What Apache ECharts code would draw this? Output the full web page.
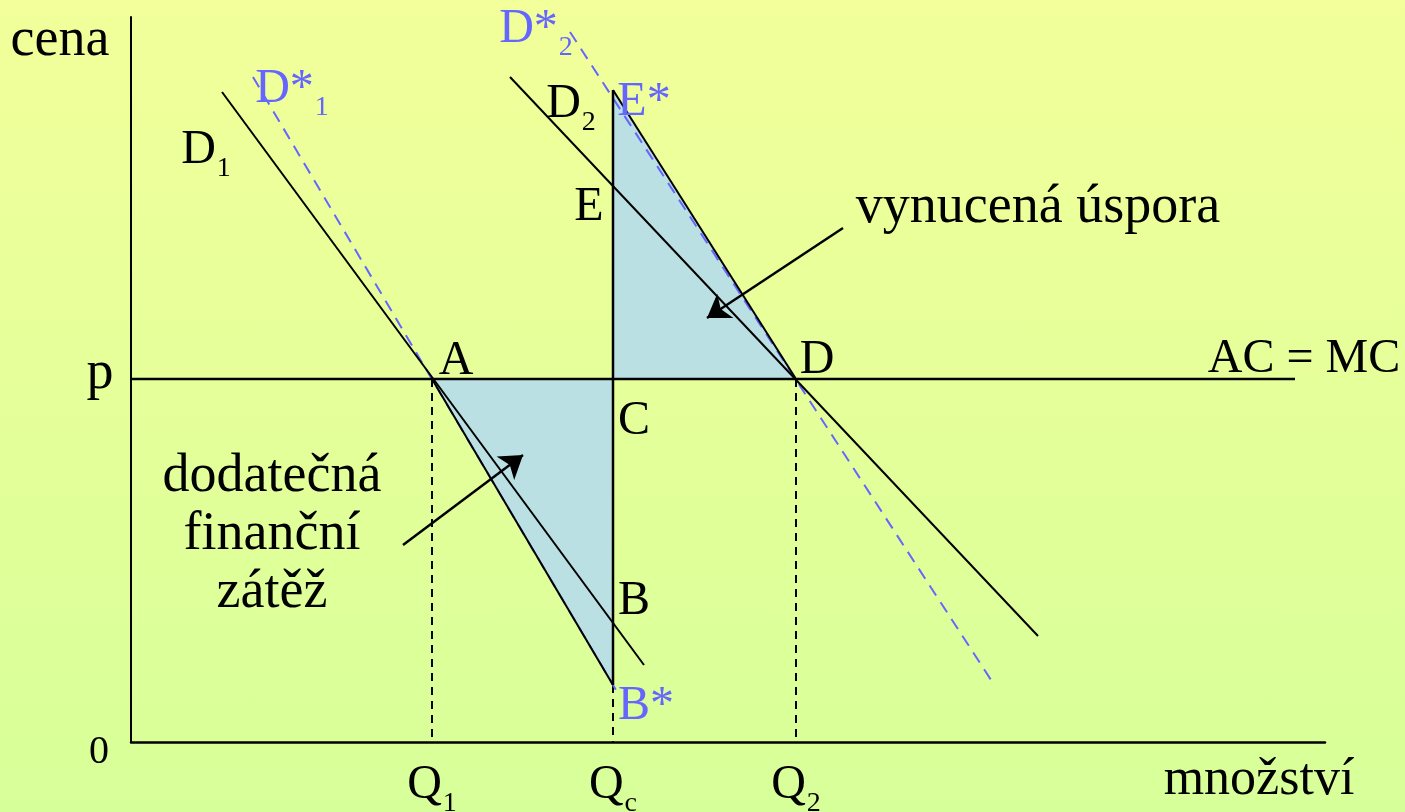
<!DOCTYPE html>
<html>
<head>
<meta charset="utf-8">
<script src="https://cdn.jsdelivr.net/npm/echarts@6/dist/echarts.min.js"></script>
<style>
  html, body { margin: 0; padding: 0; }
  #chart { width: 1405px; height: 812px; background: linear-gradient(to bottom, #f2ff9a, #d7ff99); }
</style>
</head>
<body>
<div id="chart"></div>
<script>
// quantity on x, price on y, both measured from the origin of the diagram
const X_MAX = 1194;
const Y_MAX = 725;
const P = 363; // price level p (AC = MC)
const Q1 = 301, QC = 482, Q2 = 665;

const pointA = [Q1, P];
const pointC = [QC, P];
const pointD = [Q2, P];
const pointBStar = [QC, 57];
const pointEStar = [QC, 652];

const demand1 = [[91, 650], [513, 77]];
const demand1Star = [[122, 665], [485, 52]];
const demand2 = [[379, 665], [907, 106]];
const demand2Star = [[439, 710], [862, 59]];
const costLine = [[0, P], [1164, P]];
const capLine = [pointEStar, pointBStar];
const q1Drop = [pointA, [Q1, 0]];
const qcDrop = [pointBStar, [QC, 0]];
const q2Drop = [pointD, [Q2, 0]];

const burdenTriangle = [pointA, pointC, pointBStar];
const savingTriangle = [pointEStar, pointC, pointD];

const arrows = [
  [[272, 197], [392, 287]],
  [[712, 514], [576, 424]]
];

const BLACK = "#000000";
const BLUE = "#6666ff";
const FILL = "#bae0e3";
const FONT = "Liberation Serif";

// label text, optional subscript, centre of the label, colour, size
const labels = [
  { text: "cena", at: [-71, 701], size: 54 },
  { text: "p", at: [-31, 368], size: 54 },
  { text: "0", at: [-32, -10], size: 40 },
  { text: "A", at: [325, 381] },
  { text: "C", at: [503, 321] },
  { text: "B", at: [503, 141] },
  { text: "E", at: [458, 535] },
  { text: "D", at: [686, 382] },
  { text: "B*", at: [515, 36], color: BLUE },
  { text: "E*", at: [513, 640], color: BLUE },
  { text: "D", sub: "1", at: [75, 588] },
  { text: "D", sub: "2", at: [440, 634] },
  { text: "D*", sub: "1", at: [161, 649], color: BLUE },
  { text: "D*", sub: "2", at: [405, 709], color: BLUE },
  { text: "AC = MC", at: [1173, 383] },
  { text: "vynucená úspora", at: [907, 534], size: 54 },
  { text: "dodatečná\nfinanční\nzátěž", at: [141, 207], size: 54, lineHeight: 58 },
  { text: "množství", at: [1128, -38], size: 52 },
  { text: "Q", sub: "1", at: [301, -47] },
  { text: "Q", sub: "c", at: [482, -47] },
  { text: "Q", sub: "2", at: [665, -47] }
];

function lineSeries(data, color, type, width) {
  return {
    type: "line",
    data: data,
    showSymbol: false,
    silent: true,
    clip: false,
    z: type === "solid" ? 4 : 3,
    lineStyle: { color: color, width: width || 2, type: type }
  };
}

function triangleSeries(points) {
  return {
    type: "custom",
    data: points,
    silent: true,
    z: 1,
    renderItem: function (params, api) {
      if (params.dataIndex !== 0) return;
      return {
        type: "polygon",
        shape: { points: points.map(p => api.coord(p)) },
        style: { fill: FILL }
      };
    }
  };
}

const labelData = labels.map(l => {
  const color = l.color || BLACK;
  const size = l.size || 48;
  const label = { show: true, position: "inside", align: "center", verticalAlign: "middle" };
  if (l.sub) {
    label.formatter = "{m|" + l.text + "}{s|" + l.sub + "}";
    label.rich = {
      m: { fontFamily: FONT, fontSize: size, lineHeight: 56, color: color, verticalAlign: "top" },
      s: { fontFamily: FONT, fontSize: 28, lineHeight: 28, color: color, verticalAlign: "top", padding: [29, 0, 0, 1] }
    };
  } else {
    label.formatter = l.text;
    label.fontFamily = FONT;
    label.fontSize = size;
    label.color = color;
    label.lineHeight = l.lineHeight || size;
  }
  return { value: l.at, label: label };
});

const chart = echarts.init(document.getElementById("chart"));
chart.setOption({
  animation: false,
  backgroundColor: "transparent",
  grid: { left: 131, top: 17, right: 80, bottom: 70 },
  xAxis: {
    type: "value", min: 0, max: X_MAX,
    axisLine: { show: true, lineStyle: { color: BLACK, width: 2.5 } },
    axisTick: { show: false }, axisLabel: { show: false }, splitLine: { show: false }
  },
  yAxis: {
    type: "value", min: 0, max: Y_MAX,
    axisLine: { show: true, lineStyle: { color: BLACK, width: 2 } },
    axisTick: { show: false }, axisLabel: { show: false }, splitLine: { show: false }
  },
  series: [
    triangleSeries(burdenTriangle),
    triangleSeries(savingTriangle),
    lineSeries(q1Drop, BLACK, [8, 6]),
    lineSeries(qcDrop, BLACK, [8, 6]),
    lineSeries(q2Drop, BLACK, [8, 6]),
    lineSeries(demand1Star, BLUE, [12, 8]),
    lineSeries(demand2Star, BLUE, [12, 8]),
    lineSeries(demand1, BLACK, "solid"),
    lineSeries(demand2, BLACK, "solid"),
    lineSeries([pointA, pointBStar], BLACK, "solid"),
    lineSeries([pointEStar, pointD], BLACK, "solid"),
    lineSeries(capLine, BLACK, "solid", 2.5),
    Object.assign(lineSeries(costLine, BLACK, "solid", 2.5), {
      markLine: {
        silent: true,
        symbol: ["none", "arrow"],
        symbolSize: 22,
        label: { show: false },
        lineStyle: { color: BLACK, width: 2.5, type: "solid" },
        emphasis: { disabled: true },
        data: arrows.map(a => [{ coord: a[0] }, { coord: a[1] }])
      }
    }),
    {
      type: "scatter",
      data: labelData,
      symbolSize: 1,
      itemStyle: { color: "rgba(0,0,0,0)", opacity: 1 },
      silent: true,
      clip: false,
      z: 6
    }
  ]
});
</script>
</body>
</html>
